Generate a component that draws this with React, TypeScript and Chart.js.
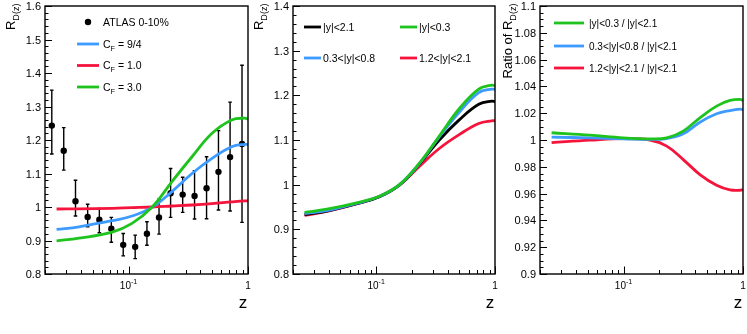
import React, { useEffect, useRef } from 'react';
import { Chart, registerables } from 'chart.js';

Chart.register(...registerables);

const W = 747;
const H = 334;
const TOP = 6;
const BOTTOM = 274;
const FONT = '"Liberation Sans", Arial, Helvetica, sans-serif';

const BLUE = '#3d9bff';
const RED = '#f5143c';
const GREEN = '#1ec31e';
const BLACK = '#000000';

// ---------- Panel 1: ATLAS data and C_F curves ----------
const atlasZ = [0.0228, 0.0287, 0.036, 0.0455, 0.057, 0.0718, 0.0903, 0.1137, 0.1426, 0.18, 0.225, 0.284, 0.357, 0.45, 0.566, 0.708, 0.891];
const atlasR = [1.243, 1.168, 1.017, 0.970, 0.962, 0.935, 0.887, 0.881, 0.920, 0.969, 1.041, 1.037, 1.033, 1.056, 1.105, 1.149, 1.188];
const atlasHi = [1.349, 1.237, 1.080, 1.008, 0.996, 0.969, 0.921, 0.916, 0.956, 1.023, 1.115, 1.089, 1.108, 1.150, 1.228, 1.313, 1.423];
const atlasLo = [1.158, 1.110, 0.973, 0.941, 0.923, 0.895, 0.854, 0.846, 0.886, 0.919, 0.969, 0.984, 0.964, 0.965, 0.991, 0.988, 0.954];

const curveZ = [0.025, 0.0385, 0.073, 0.107, 0.157, 0.231, 0.34, 0.5, 0.73, 0.94, 1.0];
const cf94 = [0.933, 0.941, 0.959, 0.973, 0.999, 1.046, 1.100, 1.145, 1.180, 1.187, 1.186];
const cf10 = [0.994, 0.9945, 0.996, 0.998, 1.000, 1.003, 1.006, 1.010, 1.015, 1.018, 1.018];
const cf30 = [0.899, 0.907, 0.925, 0.951, 0.999, 1.076, 1.150, 1.220, 1.260, 1.265, 1.262];

// ---------- Panel 2: rapidity bins ----------
const rapAll = [0.933, 0.941, 0.959, 0.973, 0.999, 1.046, 1.100, 1.145, 1.180, 1.187, 1.186];
const rap03 = [0.938, 0.945, 0.961, 0.974, 1.000, 1.048, 1.109, 1.170, 1.214, 1.223, 1.221];
const rap0308 = [0.935, 0.942, 0.960, 0.974, 0.9995, 1.047, 1.107, 1.162, 1.206, 1.214, 1.213];
const rap1221 = [0.931, 0.940, 0.959, 0.974, 0.999, 1.041, 1.081, 1.112, 1.137, 1.143, 1.143];

// ---------- Panel 3: ratios ----------
const ratioZ = [0.025, 0.0524, 0.0995, 0.167, 0.23, 0.316, 0.436, 0.601, 0.778, 0.944, 1.0];
const ratio03 = [1.0054, 1.0036, 1.0016, 1.0009, 1.0016, 1.0066, 1.0166, 1.0253, 1.0295, 1.0303, 1.0295];
const ratio0308 = [1.0021, 1.0016, 1.0009, 1.0004, 1.0011, 1.0046, 1.0133, 1.0196, 1.022, 1.023, 1.0225];
const ratio1221 = [0.998, 0.9999, 1.0011, 1.0000, 0.9954, 0.9854, 0.9742, 0.9662, 0.9628, 0.9625, 0.963];

// ---------- Axis ticks ----------
const xMinorTicks = [0.02, 0.03, 0.04, 0.05, 0.06, 0.07, 0.08, 0.09, 0.2, 0.3, 0.4, 0.5, 0.6, 0.7, 0.8, 0.9];
const xMajorTicks = [0.1, 1];
const xMajorLabels = ['10^{-1}', '1'];

const yTicksLeft = [0.8, 0.9, 1.0, 1.1, 1.2, 1.3, 1.4, 1.5, 1.6];
const yLabelsLeft = ['0.8', '0.9', '1', '1.1', '1.2', '1.3', '1.4', '1.5', '1.6'];
const yTicksMid = [0.8, 0.9, 1.0, 1.1, 1.2, 1.3, 1.4];
const yLabelsMid = ['0.8', '0.9', '1', '1.1', '1.2', '1.3', '1.4'];
const yTicksRight = [0.9, 0.92, 0.94, 0.96, 0.98, 1.0, 1.02, 1.04, 1.06, 1.08, 1.1];
const yLabelsRight = ['0.9', '0.92', '0.94', '0.96', '0.98', '1', '1.02', '1.04', '1.06', '1.08', '1.1'];

function pts(xs: number[], ys: number[]) {
  return xs.map((x, i) => ({ x, y: ys[i] }));
}

function drawRich(ctx: CanvasRenderingContext2D, text: string, x: number, y: number, size: number, align: 'left' | 'center' | 'right') {
  const parts: { t: string; m: number }[] = [];
  let buf = '';
  let i = 0;
  while (i < text.length) {
    const c = text[i];
    if ((c === '_' || c === '^') && text[i + 1] === '{') {
      if (buf) parts.push({ t: buf, m: 0 });
      buf = '';
      const end = text.indexOf('}', i);
      parts.push({ t: text.slice(i + 2, end), m: c === '_' ? -1 : 1 });
      i = end + 1;
    } else {
      buf += c;
      i++;
    }
  }
  if (buf) parts.push({ t: buf, m: 0 });
  const sub = size * 0.7;
  const widths = parts.map((p) => {
    ctx.font = `${p.m ? sub : size}px ${FONT}`;
    return ctx.measureText(p.t).width;
  });
  const total = widths.reduce((a, b) => a + b, 0);
  let cx = align === 'left' ? x : align === 'center' ? x - total / 2 : x - total;
  ctx.textAlign = 'left';
  ctx.textBaseline = 'alphabetic';
  parts.forEach((p, k) => {
    ctx.font = `${p.m ? sub : size}px ${FONT}`;
    const dy = p.m === -1 ? size * 0.3 : p.m === 1 ? -size * 0.42 : 0;
    ctx.fillText(p.t, cx, y + dy);
    cx += widths[k];
  });
}

type LegendItem = { ds: number; x: number; y: number; len: number; tx: number; dot?: boolean };

type PanelCfg = {
  left: number;
  right: number;
  yMin: number;
  yMax: number;
  yTicks: number[];
  yLabels: string[];
  yMinorStep: number;
  title: string;
  titleX: number;
  datasets: any[];
  legend: LegendItem[];
  legendSize: number;
  errors?: boolean;
};

const curveStyle = { borderWidth: 2.8, pointRadius: 0, tension: 0.4 };

const panels: PanelCfg[] = [
  {
    left: 45,
    right: 248,
    yMin: 0.8,
    yMax: 1.6,
    yTicks: yTicksLeft,
    yLabels: yLabelsLeft,
    yMinorStep: 0.02,
    title: 'R_{D(z)}',
    titleX: 15,
    errors: true,
    legendSize: 10.5,
    datasets: [
      { label: 'ATLAS 0-10%', data: pts(atlasZ, atlasR), showLine: false, pointRadius: 3.2, pointBackgroundColor: BLACK, pointBorderWidth: 0, borderColor: BLACK, backgroundColor: BLACK, order: 5 },
      { label: 'C_{F} = 9/4', data: pts(curveZ, cf94), borderColor: BLUE, ...curveStyle, order: 3 },
      { label: 'C_{F} = 1.0', data: pts(curveZ, cf10), borderColor: RED, ...curveStyle, order: 4 },
      { label: 'C_{F} = 3.0', data: pts(curveZ, cf30), borderColor: GREEN, ...curveStyle, order: 2 },
    ],
    legend: [
      { ds: 0, x: 77, y: 22, len: 22, tx: 103, dot: true },
      { ds: 1, x: 77, y: 44, len: 22, tx: 103 },
      { ds: 2, x: 77, y: 65.5, len: 22, tx: 103 },
      { ds: 3, x: 77, y: 87, len: 22, tx: 103 },
    ],
  },
  {
    left: 293,
    right: 495,
    yMin: 0.8,
    yMax: 1.4,
    yTicks: yTicksMid,
    yLabels: yLabelsMid,
    yMinorStep: 0.02,
    title: 'R_{D(z)}',
    titleX: 263,
    legendSize: 10.5,
    datasets: [
      { label: '|y|<2.1', data: pts(curveZ, rapAll), borderColor: BLACK, ...curveStyle, order: 3 },
      { label: '|y|<0.3', data: pts(curveZ, rap03), borderColor: GREEN, ...curveStyle, order: 1 },
      { label: '0.3<|y|<0.8', data: pts(curveZ, rap0308), borderColor: BLUE, ...curveStyle, order: 2 },
      { label: '1.2<|y|<2.1', data: pts(curveZ, rap1221), borderColor: RED, ...curveStyle, order: 4 },
    ],
    legend: [
      { ds: 0, x: 304, y: 27, len: 17, tx: 323 },
      { ds: 1, x: 400, y: 27, len: 17, tx: 419 },
      { ds: 2, x: 304, y: 58, len: 17, tx: 323 },
      { ds: 3, x: 400, y: 58, len: 17, tx: 419 },
    ],
  },
  {
    left: 540,
    right: 743,
    yMin: 0.9,
    yMax: 1.1,
    yTicks: yTicksRight,
    yLabels: yLabelsRight,
    yMinorStep: 0.005,
    title: 'Ratio of R_{D(z)}',
    titleX: 512,
    legendSize: 10,
    datasets: [
      { label: '|y|<0.3 / |y|<2.1', data: pts(ratioZ, ratio03), borderColor: GREEN, ...curveStyle, order: 1 },
      { label: '0.3<|y|<0.8 / |y|<2.1', data: pts(ratioZ, ratio0308), borderColor: BLUE, ...curveStyle, order: 2 },
      { label: '1.2<|y|<2.1 / |y|<2.1', data: pts(ratioZ, ratio1221), borderColor: RED, ...curveStyle, order: 3 },
    ],
    legend: [
      { ds: 0, x: 554, y: 23, len: 30, tx: 589 },
      { ds: 1, x: 554, y: 46, len: 30, tx: 589 },
      { ds: 2, x: 554, y: 68, len: 30, tx: 589 },
    ],
  },
];

function makePlugin(cfg: PanelCfg) {
  return {
    id: 'rootAxes',
    beforeDatasetsDraw(chart: any) {
      if (!cfg.errors) return;
      const ctx: CanvasRenderingContext2D = chart.ctx;
      const xs = chart.scales.x;
      const ys = chart.scales.y;
      ctx.save();
      ctx.strokeStyle = BLACK;
      ctx.lineWidth = 1.4;
      atlasZ.forEach((z, i) => {
        const px = xs.getPixelForValue(z);
        const hi = ys.getPixelForValue(atlasHi[i]);
        const lo = ys.getPixelForValue(atlasLo[i]);
        ctx.beginPath();
        ctx.moveTo(px, hi);
        ctx.lineTo(px, lo);
        ctx.moveTo(px - 1.8, hi);
        ctx.lineTo(px + 1.8, hi);
        ctx.moveTo(px - 1.8, lo);
        ctx.lineTo(px + 1.8, lo);
        ctx.stroke();
      });
      ctx.restore();
    },
    afterDraw(chart: any) {
      const ctx: CanvasRenderingContext2D = chart.ctx;
      const xs = chart.scales.x;
      const ys = chart.scales.y;
      const a = chart.chartArea;
      ctx.save();
      ctx.fillStyle = BLACK;
      ctx.strokeStyle = BLACK;
      // frame
      ctx.lineWidth = 1.4;
      ctx.strokeRect(a.left, a.top, a.right - a.left, a.bottom - a.top);
      // x ticks
      ctx.lineWidth = 1;
      ctx.beginPath();
      xMinorTicks.forEach((v) => {
        const px = Math.round(xs.getPixelForValue(v)) + 0.5;
        ctx.moveTo(px, a.bottom);
        ctx.lineTo(px, a.bottom - 4);
      });
      xMajorTicks.forEach((v) => {
        const px = Math.round(xs.getPixelForValue(v)) + 0.5;
        ctx.moveTo(px, a.bottom);
        ctx.lineTo(px, a.bottom - 7.5);
      });
      // y ticks
      const n = Math.round((cfg.yMax - cfg.yMin) / cfg.yMinorStep);
      for (let k = 0; k <= n; k++) {
        const v = cfg.yMin + k * cfg.yMinorStep;
        const py = Math.round(ys.getPixelForValue(v)) + 0.5;
        ctx.moveTo(a.left, py);
        ctx.lineTo(a.left + 3.5, py);
      }
      cfg.yTicks.forEach((v) => {
        const py = Math.round(ys.getPixelForValue(v)) + 0.5;
        ctx.moveTo(a.left, py);
        ctx.lineTo(a.left + 7, py);
      });
      ctx.stroke();
      // y labels
      cfg.yTicks.forEach((v, i) => {
        const py = ys.getPixelForValue(v);
        drawRich(ctx, cfg.yLabels[i], a.left - 4, py + 4, 11, 'right');
      });
      // x labels
      xMajorTicks.forEach((v, i) => {
        const px = xs.getPixelForValue(v);
        drawRich(ctx, xMajorLabels[i], px, 288.5, 10, 'center');
      });
      // x title
      drawRich(ctx, 'z', a.right - 5, 308, 17, 'center');
      // y title (rotated)
      ctx.save();
      ctx.translate(cfg.titleX, 3.5);
      ctx.rotate(-Math.PI / 2);
      drawRich(ctx, cfg.title, 0, 0, 13, 'right');
      ctx.restore();
      // legend
      cfg.legend.forEach((it) => {
        const ds = chart.data.datasets[it.ds];
        if (it.dot) {
          ctx.beginPath();
          ctx.arc(it.x + it.len / 2, it.y, 3.2, 0, Math.PI * 2);
          ctx.fillStyle = BLACK;
          ctx.fill();
        } else {
          ctx.beginPath();
          ctx.strokeStyle = ds.borderColor;
          ctx.lineWidth = 2.8;
          ctx.moveTo(it.x, it.y);
          ctx.lineTo(it.x + it.len, it.y);
          ctx.stroke();
        }
        ctx.fillStyle = BLACK;
        drawRich(ctx, ds.label, it.tx, it.y + cfg.legendSize * 0.36, cfg.legendSize, 'left');
      });
      ctx.restore();
    },
  };
}

function Panel({ cfg }: { cfg: PanelCfg }) {
  const ref = useRef<HTMLCanvasElement>(null);
  useEffect(() => {
    const chart = new Chart(ref.current as HTMLCanvasElement, {
      type: 'line',
      data: { datasets: cfg.datasets },
      options: {
        responsive: false,
        animation: false,
        events: [],
        layout: {
          autoPadding: false,
          padding: { left: cfg.left, right: W - cfg.right, top: TOP, bottom: H - BOTTOM },
        },
        scales: {
          x: { type: 'logarithmic', min: 0.02, max: 1, display: false },
          y: { type: 'linear', min: cfg.yMin, max: cfg.yMax, display: false },
        },
        plugins: { legend: { display: false }, tooltip: { enabled: false } },
      } as any,
      plugins: [makePlugin(cfg)],
    });
    return () => chart.destroy();
  }, []);
  return (
    <canvas
      ref={ref}
      width={W}
      height={H}
      style={{ position: 'absolute', left: 0, top: 0, width: W, height: H }}
    />
  );
}

export default function App() {
  return (
    <div style={{ position: 'fixed', left: 0, top: 0, width: W, height: H, background: '#ffffff' }}>
      {panels.map((p, i) => (
        <Panel key={i} cfg={p} />
      ))}
    </div>
  );
}
